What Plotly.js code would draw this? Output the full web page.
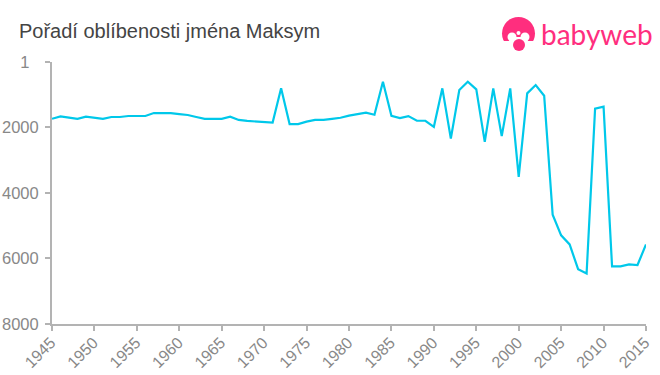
<!DOCTYPE html>
<html><head><meta charset="utf-8">
<script src="https://cdn.plot.ly/plotly-3.0.1.min.js"></script>
<style>html,body{margin:0;padding:0;background:#fff}</style></head>
<body><div id="chart" style="width:660px;height:375px"></div>
<script>
const years = [1945,1946,1947,1948,1949,1950,1951,1952,1953,1954,1955,1956,1957,1958,1959,1960,1961,1962,1963,1964,1965,1966,1967,1968,1969,1970,1971,1972,1973,1974,1975,1976,1977,1978,1979,1980,1981,1982,1983,1984,1985,1986,1987,1988,1989,1990,1991,1992,1993,1994,1995,1996,1997,1998,1999,2000,2001,2002,2003,2004,2005,2006,2007,2008,2009,2010,2011,2012,2013,2014,2015];
const ranks = [1735,1663,1700,1735,1670,1700,1735,1680,1680,1650,1650,1650,1560,1560,1560,1590,1620,1680,1735,1735,1735,1670,1770,1800,1820,1820,1850,805,1897,1897,1820,1770,1770,1735,1704,1640,1600,1550,1612,602,1643,1713,1652,1795,1795,1980,805,2335,857,602,836,2438,805,2264,805,3510,958,704,1030,4662,5294,5570,6325,6456,1428,1367,6242,6242,6181,6200,5570];
const yTicks = [1,2000,4000,6000,8000];
const yLabels = ['1\u00a0\u00a0','2000','4000','6000','8000'];
const xTicks = [1945,1950,1955,1960,1965,1970,1975,1980,1985,1990,1995,2000,2005,2010,2015];
const titleText = 'Pořadí oblíbenosti jména Maksym';
const brand = 'babyweb';
const W=660,H=375,L=52,R=14,T=62,B=51;
const px=x=>(x-L)/(W-L-R), py=y=>1-(y-T)/(H-T-B);
const pink='#ff2e7e';
function circ(cx,cy,r,color){return {type:'circle',xref:'paper',yref:'paper',x0:px(cx-r),x1:px(cx+r),y0:py(cy+r),y1:py(cy-r),fillcolor:color,line:{width:0},layer:'above'};}
function rect(x0,y0,x1,y1,color){return {type:'rect',xref:'paper',yref:'paper',x0:px(x0),x1:px(x1),y0:py(y1),y1:py(y0),fillcolor:color,line:{width:0},layer:'above'};}
const logo=[circ(518.5,33.5,16.5,pink),rect(500,41,538,52,'#fff'),circ(512,37,4.5,'#fff'),circ(525,37,4.5,'#fff'),rect(512,37,525,46,'#fff'),circ(518.5,33,2,'#fff'),circ(519,45,6,pink)];
Plotly.newPlot('chart',[{x:years,y:ranks,type:'scatter',mode:'lines',line:{color:'#00c8ea',width:2.2},hoverinfo:'skip'}],{
 width:W,height:H,margin:{l:L,r:R,t:T,b:B,pad:0},paper_bgcolor:'#fff',plot_bgcolor:'#fff',showlegend:false,
 font:{family:'"Liberation Sans",Arial,sans-serif',color:'#888'},
 title:{text:titleText,x:19/W,xanchor:'left',y:1-31/H,yanchor:'middle',font:{size:20,color:'#444',family:'"Liberation Sans",Arial,sans-serif'}},
 xaxis:{range:[1945,2015],tickmode:'array',tickvals:xTicks,ticktext:xTicks.map(String),tickangle:-45,ticks:'outside',ticklen:5,tickwidth:2,tickcolor:'#b3b3b3',showline:true,linecolor:'#b3b3b3',linewidth:2,showgrid:false,zeroline:false,tickfont:{size:16,color:'#888'},ticklabelstandoff:-4,ticklabelshift:-1},
 yaxis:{range:[8000,1],tickmode:'array',tickvals:yTicks,ticktext:yLabels,ticks:'outside',ticklen:5,tickwidth:2,tickcolor:'#b3b3b3',showline:true,linecolor:'#b3b3b3',linewidth:2,showgrid:false,zeroline:false,tickfont:{size:16.5,color:'#888'},ticklabelstandoff:3},
 shapes:logo,
 annotations:[{text:brand,xref:'paper',yref:'paper',x:px(539),y:py(34),xanchor:'left',yanchor:'middle',showarrow:false,font:{family:'Lato, "Noto Sans", sans-serif',size:28,color:pink}}]
},{staticPlot:true,displayModeBar:false});
</script></body></html>
